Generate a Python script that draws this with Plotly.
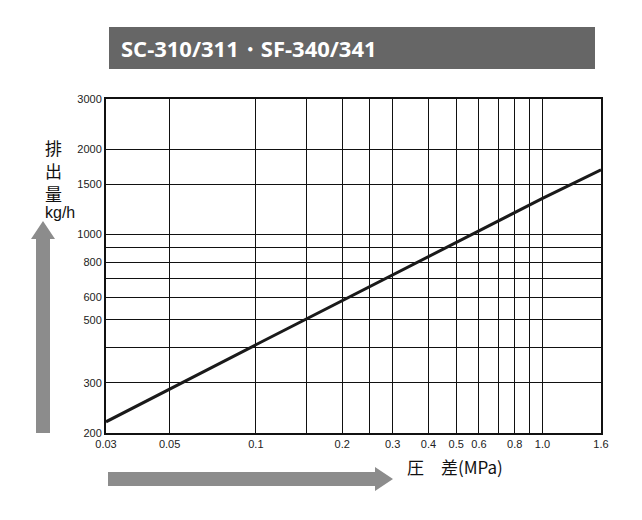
import math
import plotly.graph_objects as go

# flow curve (pressure difference MPa -> discharge kg/h)
pressure = [0.03, 0.1, 1.0, 1.6]
discharge = [219, 409, 1340, 1690]

x_grid = [0.03, 0.05, 0.1, 0.15, 0.2, 0.25, 0.3, 0.4, 0.5, 0.6, 0.7, 0.8, 0.9, 1.0, 1.6]
x_labels = ['0.03', '0.05', '0.1', '', '0.2', '', '0.3', '0.4', '0.5', '0.6', '', '0.8', '', '1.0', '1.6']
y_grid = [200, 300, 400, 500, 600, 700, 800, 900, 1000, 1500, 2000, 3000]
y_labels = ['200', '300', '', '500', '600', '', '800', '', '1000', '1500', '2000', '3000']

L, R, T, B = 105, 600, 98, 432
OFF = 7  # page offset seen in the render
def px(v):
    return (v - L) / (R - L)
def py(v):
    return (B - v) / (B - T)

fig = go.Figure(go.Scatter(x=pressure, y=discharge, mode='lines',
                           line=dict(color='#1a1a1a', width=3), showlegend=False))

axis_style = dict(type='log', showgrid=True, gridcolor='#111', gridwidth=1,
                  showline=True, linecolor='#111', linewidth=2, mirror=True,
                  ticks='', tickfont=dict(size=11, color='#222', family='Arial'), zeroline=False)
fig.update_xaxes(axis_style, range=[math.log10(0.03), math.log10(1.6)],
                 tickvals=x_grid, ticktext=x_labels)
fig.update_yaxes(axis_style, range=[math.log10(200), math.log10(3000)],
                 tickvals=y_grid, ticktext=y_labels)

gray = '#8c8c8c'
shapes = [
    # title bar
    dict(type='rect', xref='paper', yref='paper', x0=px(108), x1=px(594), y0=py(68), y1=py(26),
         fillcolor='#666666', line=dict(width=0)),
    # vertical arrow
    dict(type='path', xref='paper', yref='paper', fillcolor=gray, line=dict(width=0),
         path=f'M {px(35)} {py(432)} L {px(49)} {py(432)} L {px(49)} {py(238)} L {px(54)} {py(238)} '
              f'L {px(42)} {py(220)} L {px(30)} {py(238)} L {px(35)} {py(238)} Z'),
    # horizontal arrow
    dict(type='path', xref='paper', yref='paper', fillcolor=gray, line=dict(width=0),
         path=f'M {px(107)} {py(471)} L {px(374)} {py(471)} L {px(374)} {py(466)} L {px(392)} {py(478)} '
              f'L {px(374)} {py(490)} L {px(374)} {py(485)} L {px(107)} {py(485)} Z'),
]

def label(text, x, y, size, family, **kw):
    return dict(text=text, x=px(x), y=py(y), xref='paper', yref='paper', showarrow=False,
                font=dict(size=size, color='#111', family=family), **kw)

annotations = [
    dict(text='<b>SC-310/311・SF-340/341</b>', x=px(118), y=py(47), xref='paper', yref='paper',
         xanchor='left', yanchor='middle', showarrow=False,
         font=dict(size=22, color='white', family='Open Sans')),
    label('排', 42, 132, 17, 'Noto Sans CJK JP'),
    label('出', 42, 155, 17, 'Noto Sans CJK JP'),
    label('量', 42, 178, 17, 'Noto Sans CJK JP'),
    label('kg/h', 42, 201, 16, 'Arial'),
    label('圧　差(MPa)', 404, 480, 17, 'Noto Sans CJK JP', xanchor='left'),
]

fig.update_layout(width=642, height=520,
                  margin=dict(l=L - OFF, r=642 - R + OFF, t=T - OFF, b=520 - B + OFF),
                  plot_bgcolor='white', paper_bgcolor='white',
                  shapes=shapes, annotations=annotations)

fig.write_html('out.html')
